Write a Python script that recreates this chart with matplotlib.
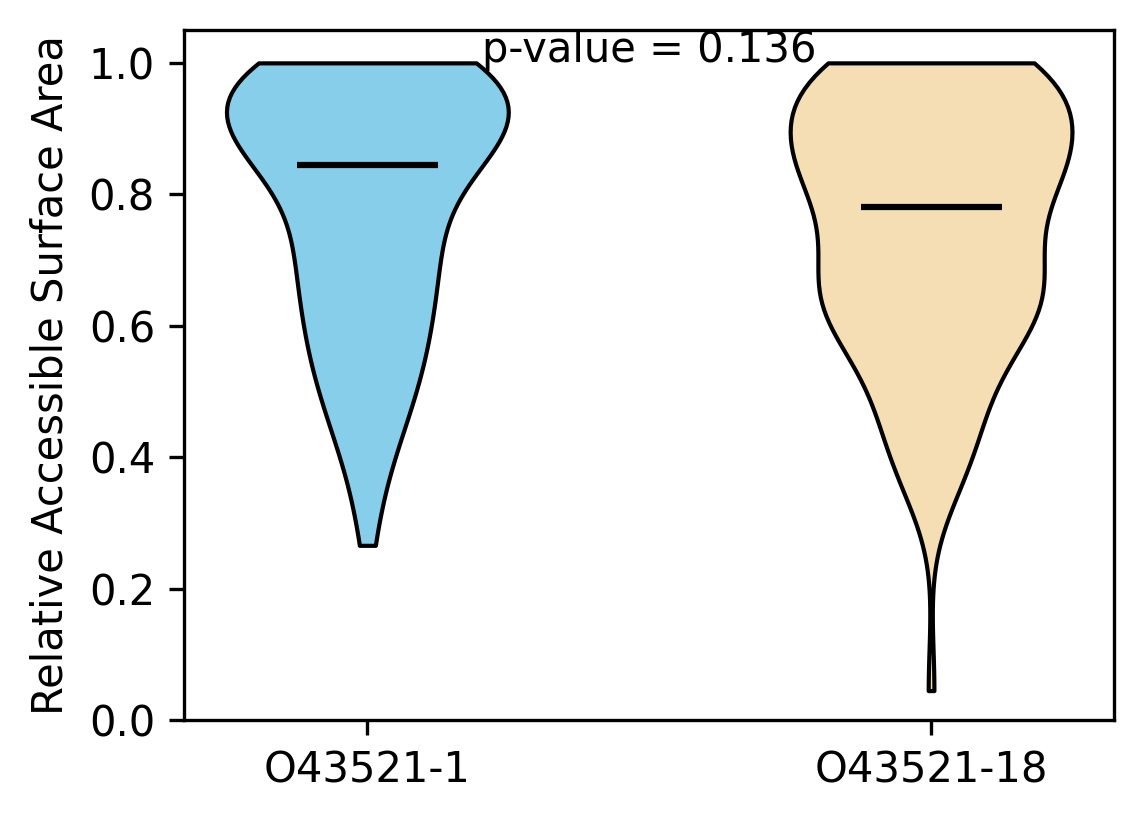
import numpy as np
import matplotlib.pyplot as plt

# RSA values (binned) and how many residues fall on each value
isoforms = ['O43521-1', 'O43521-18']
colors = ['skyblue', 'wheat']
p_value = 0.136

rsa_1 = [1.0, 0.98, 0.96, 0.94, 0.92, 0.90, 0.88, 0.86, 0.845, 0.82, 0.80, 0.78,
         0.76, 0.74, 0.72, 0.70, 0.68, 0.66, 0.64, 0.62, 0.60, 0.58, 0.56, 0.54,
         0.52, 0.50, 0.48, 0.46, 0.44, 0.42, 0.40, 0.38, 0.36, 0.34, 0.30, 0.266]
count_1 = [24, 3, 5, 9, 10, 9, 8, 6, 5, 5, 4, 4,
           3, 4, 4, 4, 4, 3, 4, 3, 4, 3, 3, 3,
           3, 3, 2, 2, 2, 2, 1, 1, 1, 1, 1, 1]

rsa_2 = [1.0, 0.98, 0.96, 0.94, 0.92, 0.90, 0.88, 0.86, 0.84, 0.82, 0.80, 0.78,
         0.76, 0.74, 0.72, 0.70, 0.68, 0.66, 0.64, 0.62, 0.60, 0.58, 0.56, 0.54,
         0.52, 0.50, 0.48, 0.46, 0.44, 0.42, 0.40, 0.38, 0.36, 0.34, 0.32, 0.045]
count_2 = [18, 3, 4, 4, 6, 7, 7, 6, 5, 5, 5, 5,
           4, 3, 3, 4, 5, 6, 6, 5, 4, 4, 3, 2,
           3, 2, 2, 2, 2, 2, 2, 2, 1, 1, 1, 1]

data_1 = np.repeat(rsa_1, count_1)
data_2 = np.repeat(rsa_2, count_2)

fig = plt.figure(figsize=(1144/300, 824/300), dpi=300)
ax = fig.add_subplot(111)
fig.subplots_adjust(left=0.161, right=0.974, top=0.9636, bottom=0.126)

parts = ax.violinplot([data_1, data_2], positions=[1, 2],
                      showmedians=True, showextrema=False)
for body, c in zip(parts['bodies'], colors):
    body.set_facecolor(c)
    body.set_edgecolor('black')
    body.set_linewidth(1)
    body.set_alpha(1)
parts['cmedians'].set_color('black')
parts['cmedians'].set_linewidth(1.5)

ax.set_xticks([1, 2])
ax.set_xticklabels(isoforms)
ax.set_ylabel('Relative Accessible Surface Area')
ax.set_ylim(0, 1.05)
ax.text(1.5, 0.988, f'p-value = {p_value}', ha='center', va='bottom')

fig.savefig('out.png', dpi=300)
